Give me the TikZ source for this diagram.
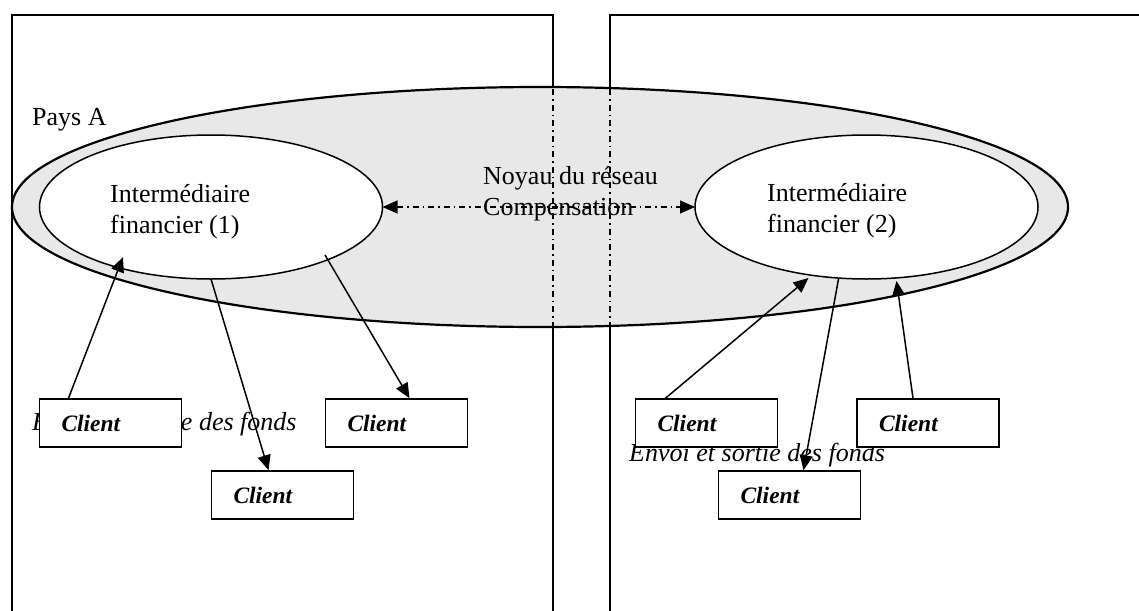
\documentclass[tikz,border=0pt]{standalone}
\usepackage{fontspec}
\setmainfont{Liberation Serif}
\usetikzlibrary{shapes.geometric,arrows.meta,calc}
\begin{document}
\begin{tikzpicture}[x=1pt,y=-1pt,
  frame/.style={line width=1.6pt},
  dd/.style={line width=1.1pt, dash pattern=on 6pt off 4pt on 1.5pt off 4pt},
  inter/.style={ellipse, draw, line width=1.5pt, fill=white, minimum width=343pt, minimum height=144pt, inner sep=0pt, outer sep=0pt},
  lbl/.style={font=\fontsize{26}{31}\selectfont, inner sep=0pt, anchor=base west},
  itlbl/.style={font=\fontsize{26}{31}\selectfont\itshape, inner sep=0pt, anchor=base west},
  clientbox/.style={draw, line width=1.6pt, fill=white, minimum width=142pt, minimum height=48pt, inner xsep=22pt, text width=98pt, align=left, font=\fontsize{23.5}{28}\selectfont\bfseries\itshape},
  arr/.style={line width=1.5pt, -{Triangle[length=15pt,width=13pt]}},
  both/.style={{Triangle[length=15pt,width=13pt]}-{Triangle[length=15pt,width=13pt]}},
]
\useasboundingbox (0,0) rectangle (1139,610);
% country frames
\draw[frame] (12,615) -- (12,15) -- (553,15) -- (553,615);
\draw[frame] (610,615) -- (610,15) -- (1145,15);
% network core
\node[ellipse, draw, line width=2.2pt, fill=black!9, minimum width=1056pt, minimum height=240pt, inner sep=0pt] (core) at (540,207) {};
% frame edges seen through the core
\draw[dd] (553,89) -- (553,326);
\draw[dd] (610,89) -- (610,326);
% intermediaries
\node[inter] (e1) at (211,207) {};
\node[inter] (e2) at (866.5,207) {};
% labels
\node[lbl] (pa) at (32,125) {Pays A};
\node[lbl] (t1a) at (110,202) {Intermédiaire};
\node[lbl] (t1b) at (110,233) {financier (1)};
\node[lbl] (t2a) at (767,201) {Intermédiaire};
\node[lbl] (t2b) at (767,232) {financier (2)};
\node[lbl] (na) at (483,184) {Noyau du réseau};
\node[lbl] (nb) at (483,215) {Compensation};
% compensation link
\draw[dd, both] (e1.east) -- (e2.west);
% flow labels
\node[itlbl] (f1) at (32,430) {Entrée et sortie des fonds};
\node[itlbl] (f2) at (629,461) {Envoi et sortie des fonds};
% clients
\node[clientbox] (l1) at (110.5,423) {Client};
\node[clientbox] (l2) at (396.5,423) {Client};
\node[clientbox] (l3) at (282.5,495) {Client};
\node[clientbox] (r1) at (706.5,423) {Client};
\node[clientbox] (r2) at (928,423) {Client};
\node[clientbox] (r3) at (789.5,495) {Client};
% flows
\draw[arr] ([xshift=-42pt]l1.north) -- ($(e1.center)+(-88,50)$);
\draw[arr] (e1.south) -- ([xshift=-14pt]l3.north);
\draw[arr] ($(e1.center)+(114,48)$) -- ([xshift=13pt]l2.north);
\draw[arr] ([xshift=-41pt]r1.north) -- ($(e2.center)+(-58,71)$);
\draw[arr] ($(e2.center)+(-28,72)$) -- ([xshift=14pt]r3.north);
\draw[arr] ([xshift=-15pt]r2.north) -- ($(e2.center)+(30,74)$);
\end{tikzpicture}
\end{document}
